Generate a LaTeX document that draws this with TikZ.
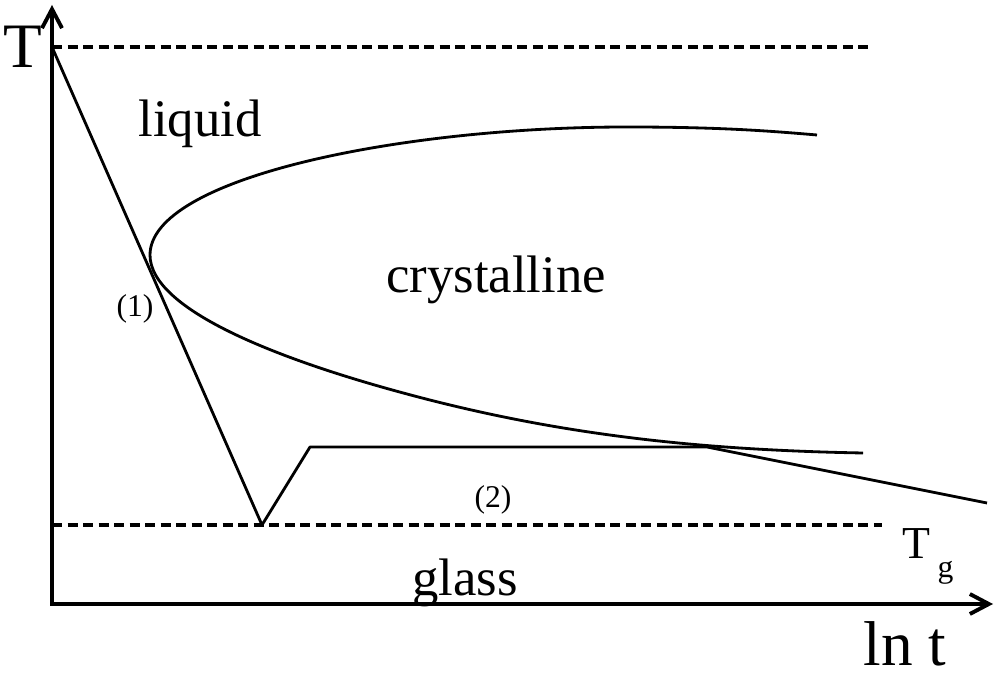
\documentclass[tikz,border=0pt]{standalone}
\usepackage{fontspec}
\setmainfont{Liberation Serif}
\usetikzlibrary{arrows.meta}

\begin{document}
\begin{tikzpicture}[
  x=0.01cm, y=-0.01cm,
  >={Straight Barb[length=1.9mm,width=2.0mm]},
  % axes (open barb tips)
  axis/.style={<->, line width=1.1pt},
  % dashed temperature levels
  level/.style={line width=1.1pt, dash pattern=on 0.1cm off 0.055cm},
  % cooling paths and the C-curve
  curve/.style={line width=0.8pt, line join=round},
  % region names and small tags
  region/.style={font=\fontsize{15}{15}\selectfont, anchor=base, inner sep=0pt},
  tag/.style={font=\fontsize{9}{9}\selectfont, inner sep=0pt},
  big/.style={font=\fontsize{18}{18}\selectfont, inner sep=0pt},
]
\useasboundingbox (0,0) rectangle (995,674);

%% ── origin and levels (pixel units, y downwards) ─────────────────────────
\def\xo{52}    % T axis
\def\yo{604}   % ln t axis
\def\ym{47}    % upper dashed level
\def\yg{525}   % glass transition level

%% ── axes ─────────────────────────────────────────────────────────────────
\coordinate (O)    at (\xo,\yo);
\coordinate (ytip) at (\xo,5);
\coordinate (xtip) at (993,\yo);
\draw[axis] (ytip) -- (O) -- (xtip);

%% ── dashed levels ────────────────────────────────────────────────────────
\coordinate (m0) at (\xo,\ym);
\coordinate (m1) at (872,\ym);
\coordinate (g0) at (\xo,\yg);
\coordinate (g1) at (882,\yg);
\draw[level] (m0) -- (m1);
\draw[level] (g0) -- (g1);

%% ── cooling paths ────────────────────────────────────────────────────────
\coordinate (v)  at (262,\yg);
\coordinate (k)  at (310,447);
\coordinate (h)  at (707,447);
\coordinate (e)  at (987,503);
\draw[curve] (m0) -- (v) -- (k) -- (h) -- (e);

%% ── C-curve (crystallisation) ────────────────────────────────────────────
\coordinate (c0)   at (817,135);
\coordinate (ctop) at (627,127);
\coordinate (nose) at (150,255);
\coordinate (cmid) at (407,394);
\coordinate (c1)   at (863,453);
\draw[curve] (c0) .. controls (770,131) and (720,127) .. (ctop)
  .. controls (400,127) and (150,178) .. (nose)
  .. controls (150,310) and (280,360) .. (cmid)
  .. controls (559,435) and (700,450) .. (c1);

%% ── labels ───────────────────────────────────────────────────────────────
\node[big]    (T)     at (23,47) {T};
\node[region] (liq)   at (200,137) {liquid};
\node[region] (cry)   at (496,293) {crystalline};
\node[region] (gla)   at (465,595) {glass};
\node[tag]    (p1)    at (135,309) {(1)};
\node[tag]    (p2)    at (493,500) {(2)};
\node[font=\fontsize{13}{13}\selectfont, anchor=base west, inner sep=0pt]
  (Tg) at (902,558) {T\hspace{0.07cm}\raisebox{-0.19cm}{\fontsize{9}{9}\selectfont g}};
\node[big, anchor=base] (lnt) at (905,665) {ln t};

\end{tikzpicture}
\end{document}
